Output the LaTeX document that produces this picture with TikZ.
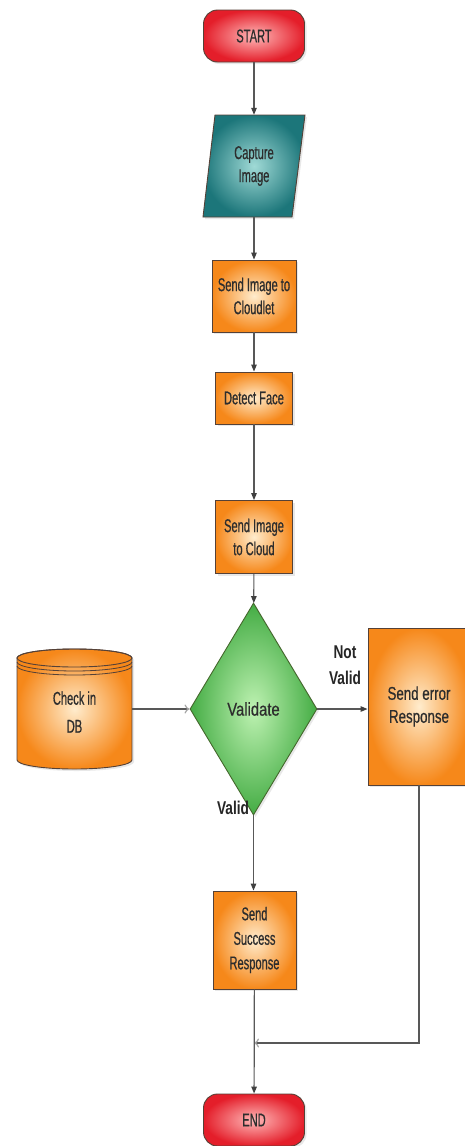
\documentclass[tikz,border=0pt]{standalone}
\usepackage{fontspec}
\setmainfont{Liberation Sans}
\newfontfamily\fnar[FakeStretch=0.6,FakeBold=0.6]{Liberation Sans}
\newfontfamily\fmid[FakeStretch=0.72,FakeBold=0.6]{Liberation Sans}
\newfontfamily\fwid[FakeStretch=0.8,FakeBold=0.6]{Liberation Sans}
\newfontfamily\flab[FakeStretch=0.74]{Liberation Sans}
\usetikzlibrary{arrows.meta,shapes.geometric,shadows}
\definecolor{orin}{RGB}{255,236,205}
\definecolor{orout}{RGB}{246,136,26}
\definecolor{redin}{RGB}{255,185,185}
\definecolor{redout}{RGB}{228,30,42}
\definecolor{tealin}{RGB}{160,218,214}
\definecolor{tealout}{RGB}{28,118,122}
\definecolor{grnin}{RGB}{190,242,178}
\definecolor{grnout}{RGB}{68,172,68}
\definecolor{bordc}{RGB}{85,65,55}
\definecolor{linec}{RGB}{88,88,88}
\definecolor{txtc}{RGB}{45,45,45}
\tikzset{
  shad/.style={drop shadow={opacity=0.18,shadow xshift=2pt,shadow yshift=-2pt}},
  boxtext/.style={text=txtc,align=center,font=\fnar\fontsize{18.5}{23}\selectfont},
  box/.style={rectangle,draw=bordc,line width=0.9pt,inner color=orin,outer color=orout,shad,boxtext,inner sep=1pt},
  term/.style={rectangle,rounded corners=14pt,draw=bordc,line width=0.9pt,inner color=redin,outer color=redout,shad,boxtext,minimum width=101pt,minimum height=52pt},
  conn/.style={draw=linec,line width=1.2pt,-{Triangle[length=7pt,width=5.5pt,color=black!75]}},
  oconn/.style={draw=linec,line width=1.2pt,-{To[length=5pt,width=9pt,color=black!35]}},
  lab/.style={font=\flab\bfseries\fontsize{18.5}{26}\selectfont,text=black!85,align=center}
}
\begin{document}
\begin{tikzpicture}[x=1pt,y=-1pt]
\useasboundingbox[fill=white] (0,0) rectangle (464,1146);

% START
\node[term] (start) at (254,36) {START};

% Capture Image (parallelogram)
\path[draw=bordc,line width=0.9pt,inner color=tealin,outer color=tealout,shad]
  (215,115) -- (305,115) -- (292,217) -- (203,217) -- cycle;
\node[boxtext,minimum width=89pt,minimum height=102pt,inner sep=0pt] (cap) at (254,166) {Capture\\Image};

% Process boxes
\node[box,minimum width=84pt,minimum height=72pt] (cloudlet) at (254,296) {Send Image to\\Cloudlet};
\node[box,minimum width=77pt,minimum height=52pt] (detect) at (254,398) {Detect Face};
\node[box,minimum width=77pt,minimum height=73pt] (cloud) at (254,537) {Send Image\\to Cloud};

% Validate diamond
\node[diamond,aspect=0.6,draw=bordc!80!green,line width=0.9pt,inner color=grnin,outer color=grnout,shad,
      minimum width=127pt,minimum height=212pt,inner sep=0pt,text=txtc,font=\fwid\fontsize{18.5}{23}\selectfont] (val) at (253.5,709) {Validate};

% Check in DB cylinder
\path[draw=bordc,line width=0.9pt,inner color=orin,outer color=orout,shad]
  (17,658) -- (17,760) arc[start angle=180,end angle=360,x radius=57.5pt,y radius=9pt]
  -- (132,658) arc[start angle=0,end angle=180,x radius=57.5pt,y radius=9pt] -- cycle;
\draw[bordc,line width=0.9pt] (74.5,658) ellipse[x radius=57.5pt,y radius=9pt];
\draw[bordc,line width=0.8pt] (17,662) arc[start angle=180,end angle=360,x radius=57.5pt,y radius=9pt];
\draw[bordc,line width=0.8pt] (17,666) arc[start angle=180,end angle=360,x radius=57.5pt,y radius=9pt];
\node[boxtext,minimum width=115pt,minimum height=120pt,inner sep=0pt,font=\fnar\fontsize{18.5}{28}\selectfont] (db) at (74.5,712) {Check in\\DB};

% Send error Response
\node[box,minimum width=102pt,minimum height=157pt,font=\fmid\fontsize{18.5}{23}\selectfont] (err) at (419,706.5) {Send error\\Response};

% Send Success Response
\node[box,minimum width=83pt,minimum height=98pt,font=\fnar\fontsize{18.5}{24.5}\selectfont] (succ) at (254.5,940) {Send\\Success\\Response};

% END
\node[term] (end) at (254,1120) {END};

\coordinate (j) at (254,1043);

% Labels
\node[lab] (nv) at (345,665) {Not\\Valid};
\node[lab] (vl) at (233,808) {Valid};

% Connectors
\draw[conn] (start) -- (cap);
\draw[conn] (cap) -- (cloudlet);
\draw[conn] (cloudlet) -- (detect);
\draw[conn] (detect) -- (cloud);
\draw[conn] (cloud) -- (val);
\draw[oconn] (db.east |- val.west) -- (val.west);
\draw[conn] (val.east) -- (err.west |- val.east);
\draw[conn] (val.south) -- (succ.north -| val.south);
\draw[oconn] (err.south) |- (j);
\draw[conn] (succ) -- (end);
\end{tikzpicture}
\end{document}
